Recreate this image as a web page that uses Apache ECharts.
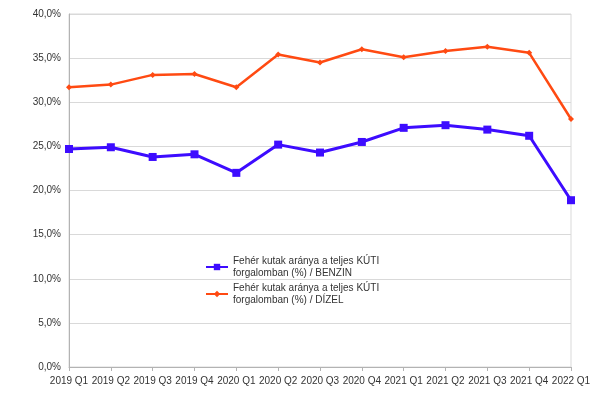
<!DOCTYPE html>
<html>
<head>
<meta charset="utf-8">
<script src="https://cdn.jsdelivr.net/npm/echarts@6/dist/echarts.min.js"></script>
<style>
  html, body { margin: 0; padding: 0; background: #fff; }
  #chart { width: 600px; height: 399px; }
</style>
</head>
<body>
<div id="chart"></div>
<script>
var quarters = ['2019 Q1', '2019 Q2', '2019 Q3', '2019 Q4', '2020 Q1', '2020 Q2', '2020 Q3',
  '2020 Q4', '2021 Q1', '2021 Q2', '2021 Q3', '2021 Q4', '2022 Q1'];
var benzin = [24.7, 24.9, 23.8, 24.1, 22.0, 25.2, 24.3, 25.5, 27.1, 27.4, 26.9, 26.2, 18.9];
var dizel = [31.7, 32.0, 33.1, 33.2, 31.7, 35.4, 34.5, 36.0, 35.1, 35.8, 36.3, 35.6, 28.1];
var seriesNames = [
  'Fehér kutak aránya a teljes KÚTI\nforgalomban (%) / BENZIN',
  'Fehér kutak aránya a teljes KÚTI\nforgalomban (%) / DÍZEL'
];

var myChart = echarts.init(document.getElementById('chart'));

var option = {
  animation: false,
  backgroundColor: '#fff',
  textStyle: { fontFamily: 'Liberation Sans, Arial, sans-serif' },
  grid: {
    left: 69, right: 29, top: 14, bottom: 32,
    show: true,
    borderColor: '#d9d9d9',
    borderWidth: 1
  },
  legend: {
    orient: 'vertical',
    left: 205,
    top: 249,
    padding: 0,
    itemWidth: 22,
    itemHeight: 8,
    itemGap: -9,
    data: seriesNames,
    textStyle: {
      fontSize: 10,
      color: '#333',
      lineHeight: 12,
      padding: [12, 0, 0, 0]
    }
  },
  xAxis: {
    type: 'category',
    boundaryGap: false,
    data: quarters,
    axisLine: { lineStyle: { color: '#b3b3b3' } },
    axisTick: { show: true, length: 4, alignWithLabel: true, lineStyle: { color: '#b3b3b3' } },
    axisLabel: { interval: 0, fontSize: 10, color: '#333', margin: 9 },
    splitLine: { show: false }
  },
  yAxis: {
    type: 'value',
    min: 0,
    max: 40,
    interval: 5,
    axisLine: { show: true, lineStyle: { color: '#b3b3b3' } },
    axisTick: { show: false },
    axisLabel: {
      fontSize: 10,
      color: '#333',
      margin: 8,
      formatter: function (v) { return v.toFixed(1).replace('.', ',') + '%'; }
    },
    splitLine: { lineStyle: { color: '#d9d9d9' } }
  },
  series: [
    {
      name: seriesNames[0],
      type: 'line',
      data: benzin,
      symbol: 'rect',
      symbolSize: 8,
      itemStyle: { color: '#3d0cff' },
      lineStyle: { color: '#3d0cff', width: 3 }
    },
    {
      name: seriesNames[1],
      type: 'line',
      data: dizel,
      symbol: 'diamond',
      symbolSize: 6,
      itemStyle: { color: '#ff4a12' },
      lineStyle: { color: '#ff4a12', width: 2.5 }
    }
  ]
};
myChart.setOption(option);
</script>
</body>
</html>
